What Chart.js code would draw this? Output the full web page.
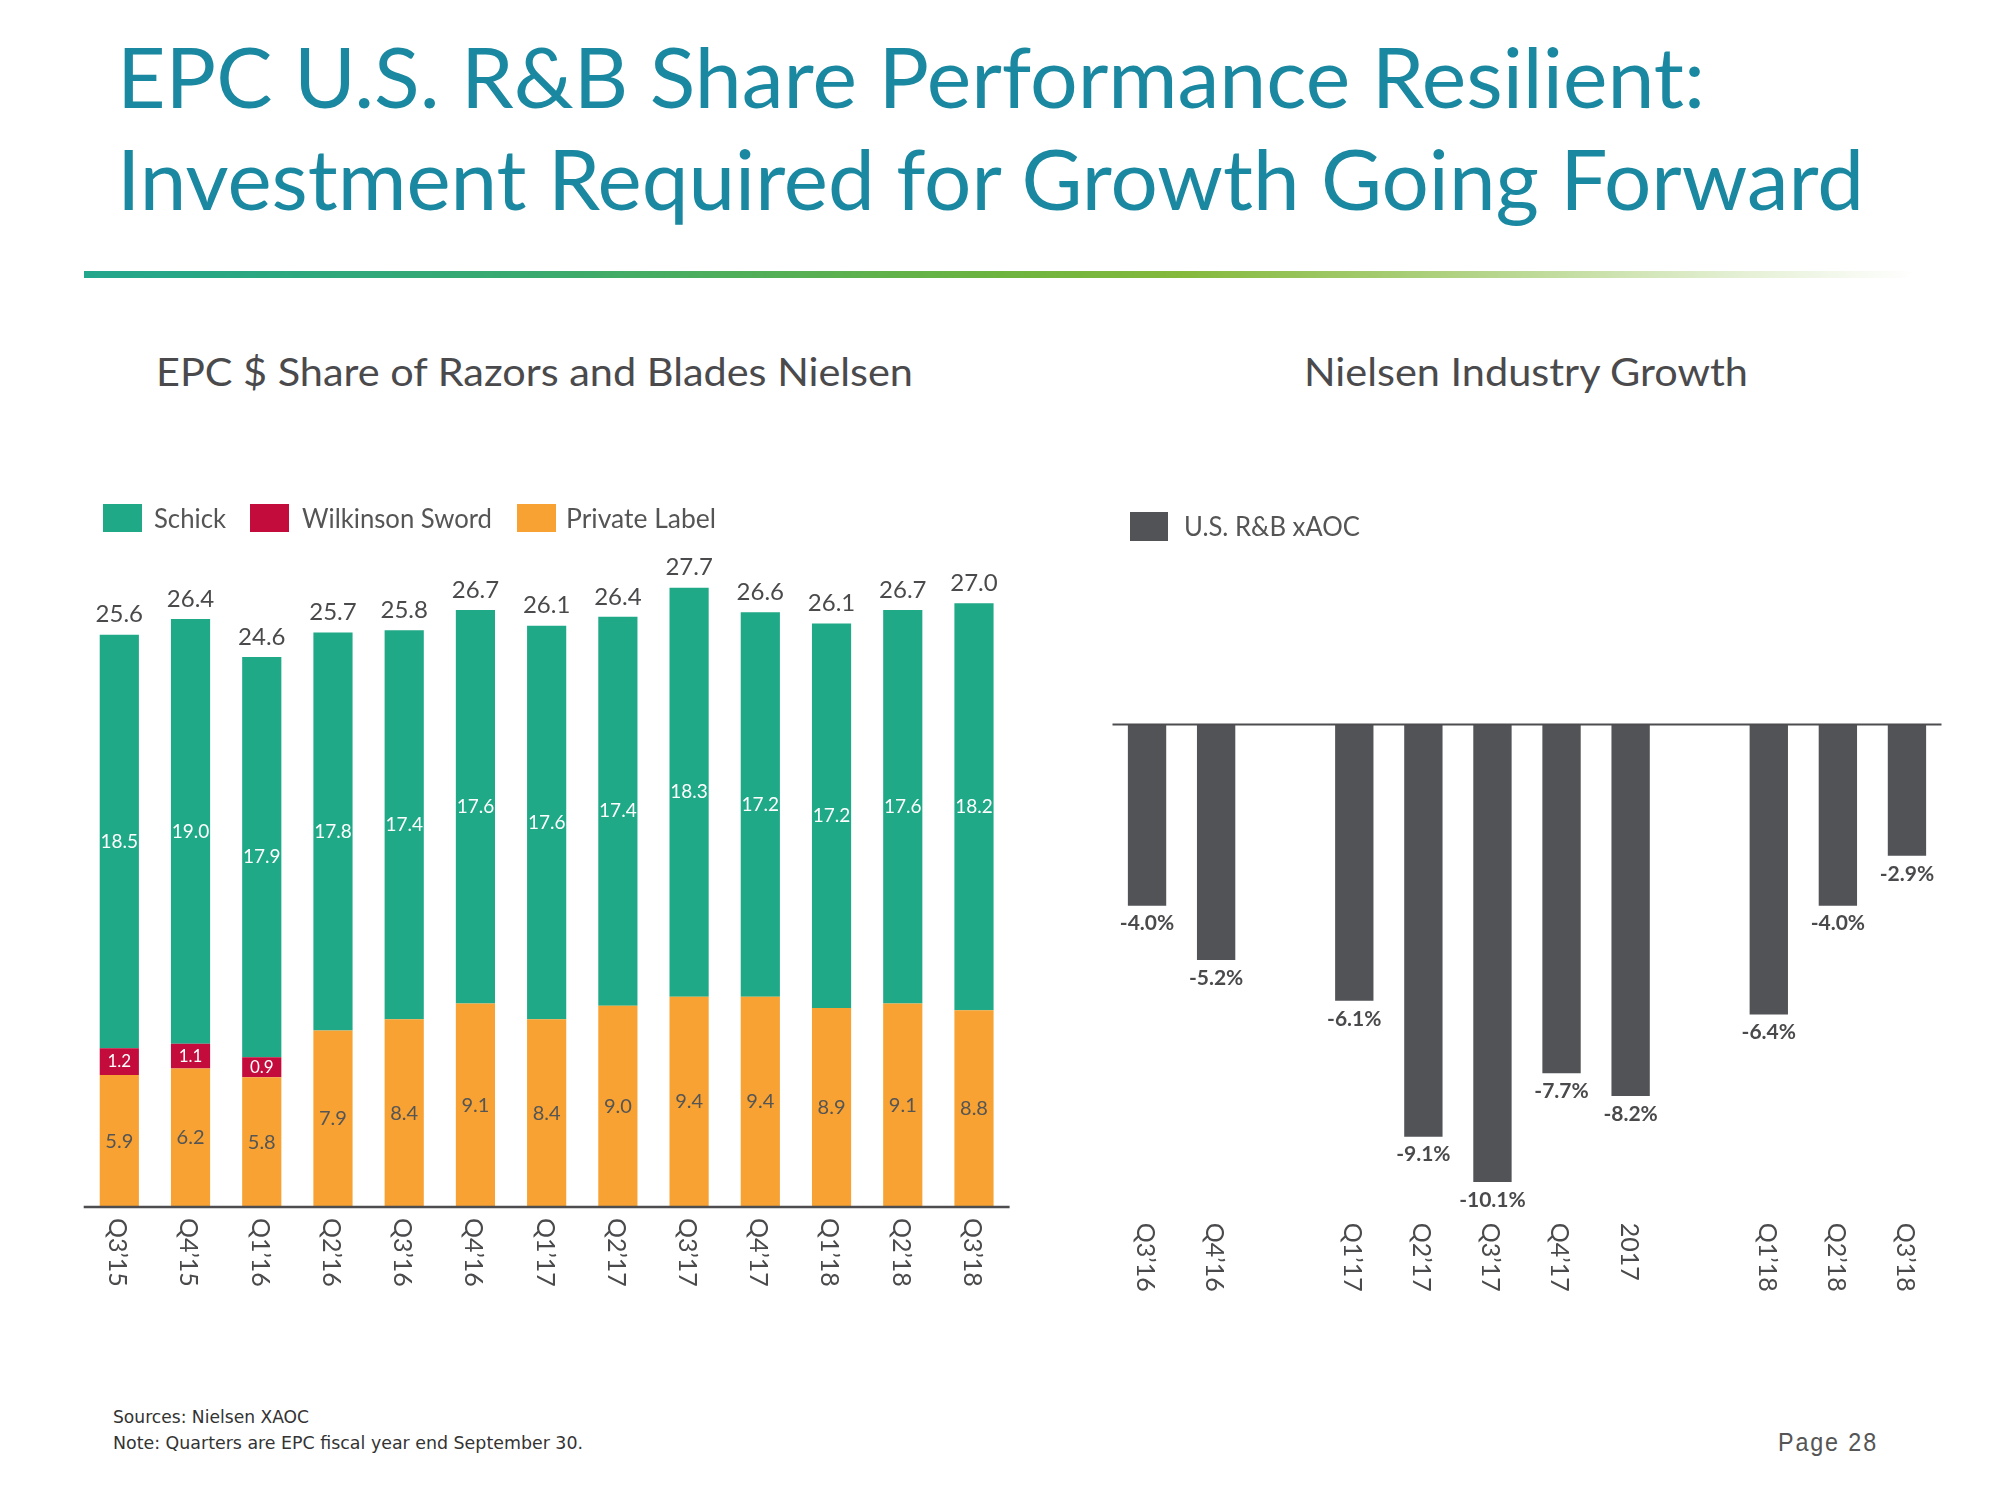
<!DOCTYPE html>
<html><head><meta charset="utf-8">
<script src="https://cdn.jsdelivr.net/npm/chart.js@4.4.0/dist/chart.umd.min.js"></script>
<style>
html,body{margin:0;padding:0;background:#fff;}
body{width:2000px;height:1500px;position:relative;overflow:hidden;font-family:Lato,sans-serif;}
.t{position:absolute;white-space:nowrap;line-height:1;transform-origin:0 0;}
.sw{position:absolute;}
canvas{position:absolute;}
#rule{position:absolute;left:84px;top:271px;width:1830px;height:7px;
 background:linear-gradient(to right,#22a68c 0%,#3aaa6e 25%,#6db43f 50%,#84b93c 60%,#b3d487 76%,#e3efd2 90%,#ffffff 100%);}
</style></head><body>
<div id="rule"></div>
<canvas id="left" width="1010" height="900" style="left:40px;top:440px"></canvas>
<canvas id="right" width="900" height="900" style="left:1080px;top:440px"></canvas>
<script>
// ---------- data ----------
const quarters = ["Q3’15","Q4’15","Q1’16","Q2’16","Q3’16","Q4’16","Q1’17","Q2’17","Q3’17","Q4’17","Q1’18","Q2’18","Q3’18"];
const seriesNames = ["Schick","Wilkinson Sword","Private Label"];
const schick = [18.5,19.0,17.9,17.8,17.4,17.6,17.6,17.4,18.3,17.2,17.2,17.6,18.2];
const wilkinson = [1.2,1.1,0.9,null,null,null,null,null,null,null,null,null,null];
const privateLabel = [5.9,6.2,5.8,7.9,8.4,9.1,8.4,9.0,9.4,9.4,8.9,9.1,8.8];
const totals = [25.6,26.4,24.6,25.7,25.8,26.7,26.1,26.4,27.7,26.6,26.1,26.7,27.0];

const growthPeriods = ["Q3’16","Q4’16","","Q1’17","Q2’17","Q3’17","Q4’17","2017","","Q1’18","Q2’18","Q3’18"];
const growthName = "U.S. R&B xAOC";
const growth = [-4.0,-5.2,null,-6.1,-9.1,-10.1,-7.7,-8.2,null,-6.4,-4.0,-2.9];

// ---------- styles ----------
const C_SCHICK='#1fa987', C_WILK='#c40c3c', C_PL='#f7a232', C_GROWTH='#525357', C_TEXT='#4a4a4d';

// ---------- html text helper ----------
function place(text,x,base,size,o){
  o=o||{};
  const d=document.createElement('div'); d.className='t'; d.textContent=text;
  d.style.fontSize=size+'px'; d.style.left=x+'px'; d.style.top='0px';
  d.style.color=o.color||C_TEXT;
  if(o.family) d.style.fontFamily=o.family;
  if(o.weight) d.style.fontWeight=o.weight;
  if(o.ls) d.style.letterSpacing=o.ls+'px';
  const m=document.createElement('span'); m.style.display='inline-block'; m.style.width='0'; m.style.height='0';
  d.appendChild(m); document.body.appendChild(d);
  d.style.top=(base-m.offsetTop)+'px';
  if(o.w){ const w=d.getBoundingClientRect().width; d.style.transform='scaleX('+(o.w/w)+')'; }
  return d;
}
function swatch(x,y,w,h,c){const s=document.createElement('div');s.className='sw';
  Object.assign(s.style,{left:x+'px',top:y+'px',width:w+'px',height:h+'px',background:c});document.body.appendChild(s);}

const TEAL='#1a88a0';
place("EPC U.S. R&B Share Performance Resilient:",117,108,83,{color:TEAL,w:1588});
place("Investment Required for Growth Going Forward",117,210,83,{color:TEAL,w:1747});
place("EPC $ Share of Razors and Blades Nielsen",156,386,39,{w:757});
place("Nielsen Industry Growth",1304,386,39,{w:444});

// legends
const legX=[103,250,517], legTX=[154,302,566], legW=[72,190,150], legC=[C_SCHICK,C_WILK,C_PL];
seriesNames.forEach((n,i)=>{ swatch(legX[i],504,39,28,legC[i]); place(n,legTX[i],528,26,{w:legW[i],color:'#555'}); });
swatch(1130,512,38,29,C_GROWTH); place(growthName,1184,536,26,{w:176,color:'#555'});

// footer
place("Sources: Nielsen XAOC",113,1423,17,{family:"'DejaVu Sans Condensed','DejaVu Sans',sans-serif",w:196,color:'#333'});
place("Note: Quarters are EPC fiscal year end September 30.",113,1449,17,{family:"'DejaVu Sans Condensed','DejaVu Sans',sans-serif",w:470,color:'#333'});
place("Page 28",1778,1451,25,{family:"'Liberation Sans',Arial,sans-serif",ls:2,w:100,color:'#555'});

// ---------- charts ----------
Chart.defaults.font.family='Lato';
const labelStyle=[ // per dataset (order: PL, Wilk, Schick)
  {color:'#555',font:'20px Lato'},
  {color:'#fff',font:'17px Lato'},
  {color:'#fff',font:'19px Lato'}
];
const leftPlugin={id:'leftPlugin',afterDatasetsDraw(chart){
  const {ctx,chartArea:a,scales:{x,y}}=chart;
  ctx.save();
  const y0=y.getPixelForValue(0);
  ctx.strokeStyle='#4d4d50';ctx.lineWidth=2.5;ctx.beginPath();ctx.moveTo(a.left,y0);ctx.lineTo(a.right,y0);ctx.stroke();
  ctx.textAlign='center';ctx.textBaseline='middle';
  chart.data.datasets.forEach((ds,di)=>{
    const meta=chart.getDatasetMeta(di);
    meta.data.forEach((el,i)=>{
      const v=ds.data[i]; if(v==null) return;
      ctx.fillStyle=labelStyle[di].color; ctx.font=labelStyle[di].font;
      ctx.fillText(v.toFixed(1),el.x,(el.y+el.base)/2);
    });
  });
  const topMeta=chart.getDatasetMeta(2);
  ctx.fillStyle=C_TEXT; ctx.font='24px Lato';
  topMeta.data.forEach((el,i)=>ctx.fillText(totals[i].toFixed(1),el.x,el.y-20));
  ctx.font='25px Lato'; ctx.fillStyle=C_TEXT; ctx.textAlign='left';
  chart.data.labels.forEach((lab,i)=>{
    const px=x.getPixelForValue(i);
    ctx.save();ctx.translate(px-2,y0+11);ctx.rotate(Math.PI/2);ctx.fillText(lab,0,0);ctx.restore();
  });
  ctx.restore();
}};
new Chart(document.getElementById('left'),{
  type:'bar',
  data:{labels:quarters,datasets:[
    {label:seriesNames[2],data:privateLabel,backgroundColor:C_PL},
    {label:seriesNames[1],data:wilkinson,backgroundColor:C_WILK},
    {label:seriesNames[0],data:schick,backgroundColor:C_SCHICK}
  ]},
  options:{responsive:false,animation:false,
    layout:{padding:{left:43.7,right:40.4,top:96.3,bottom:133}},
    datasets:{bar:{categoryPercentage:1,barPercentage:0.55}},
    plugins:{legend:{display:false},tooltip:{enabled:false}},
    scales:{x:{display:false,stacked:true},y:{display:false,stacked:true,min:0,max:30}}
  },
  plugins:[leftPlugin]
});

const rightPlugin={id:'rightPlugin',afterDatasetsDraw(chart){
  const {ctx,chartArea:a,scales:{x,y}}=chart;
  ctx.save();
  const y0=y.getPixelForValue(0);
  ctx.strokeStyle='#4d4d50';ctx.lineWidth=2;ctx.beginPath();ctx.moveTo(a.left,y0);ctx.lineTo(a.right,y0);ctx.stroke();
  ctx.textAlign='center';ctx.textBaseline='middle';ctx.fillStyle=C_TEXT;ctx.font='bold 21px Lato';
  const meta=chart.getDatasetMeta(0);
  meta.data.forEach((el,i)=>{const v=growth[i]; if(v==null) return; ctx.fillText(v.toFixed(1)+'%',el.x,el.y+18);});
  ctx.font='25px Lato'; ctx.textAlign='left';
  chart.data.labels.forEach((lab,i)=>{
    if(!lab) return;
    const px=x.getPixelForValue(i);
    ctx.save();ctx.translate(px-2,a.bottom);ctx.rotate(Math.PI/2);ctx.fillText(lab,0,0);ctx.restore();
  });
  ctx.restore();
}};
new Chart(document.getElementById('right'),{
  type:'bar',
  data:{labels:growthPeriods,datasets:[{label:growthName,data:growth,backgroundColor:C_GROWTH}]},
  options:{responsive:false,animation:false,
    layout:{padding:{left:32.5,right:38.5,top:284.5,bottom:117.2}},
    datasets:{bar:{categoryPercentage:1,barPercentage:0.555}},
    plugins:{legend:{display:false},tooltip:{enabled:false}},
    scales:{x:{display:false},y:{display:false,min:-11,max:0}}
  },
  plugins:[rightPlugin]
});
</script>
</body></html>
